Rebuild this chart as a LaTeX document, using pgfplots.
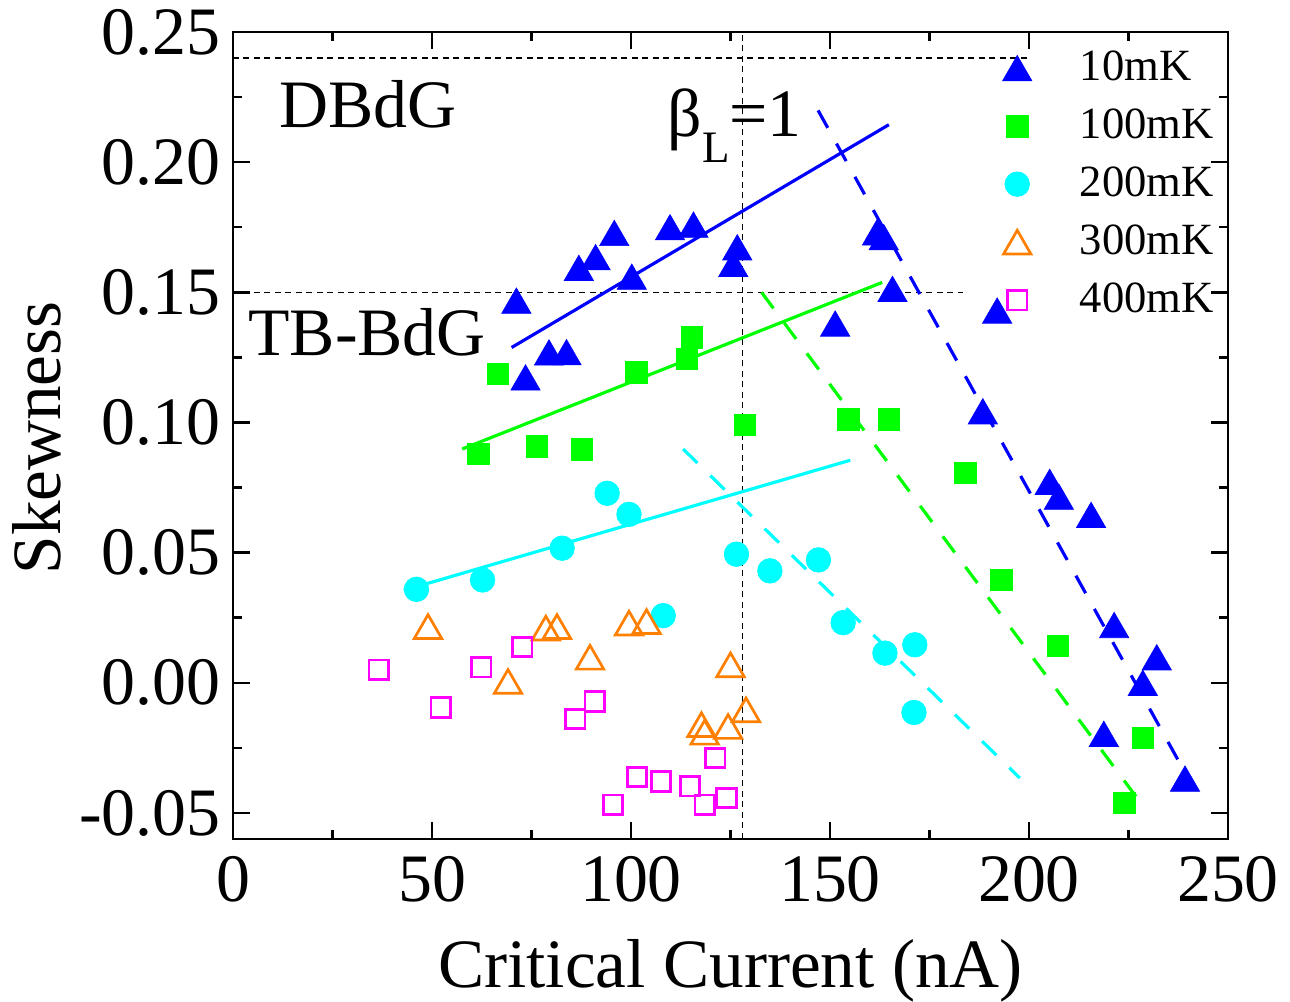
\documentclass[border=0pt]{standalone}
\usepackage{fontspec}
\setmainfont{Liberation Serif}
\usepackage{pgfplots}
\pgfplotsset{compat=1.18}
\definecolor{oBlue}{RGB}{0,0,255}
\definecolor{oGreen}{RGB}{0,255,0}
\definecolor{oCyan}{RGB}{0,255,255}
\definecolor{oOrange}{RGB}{255,128,0}
\definecolor{oMag}{RGB}{255,0,255}
\newcommand{\bigf}{\rmfamily\fontsize{19.3pt}{23pt}\selectfont}
\newcommand{\labf}{\rmfamily\fontsize{19.7pt}{23pt}\selectfont}
\newcommand{\legf}{\rmfamily\fontsize{12.7pt}{15pt}\selectfont}

\begin{document}
\begin{tikzpicture}
\useasboundingbox (-23.3mm,-16.3mm) rectangle (105.7mm,83.9mm);
\begin{axis}[
  scale only axis, width=99.5mm, height=80.7mm,
  xmin=0, xmax=250, ymin=-0.06, ymax=0.25,
  axis line style={line width=0.7pt},
  xtick={0,50,100,150,200,250},
  xticklabels={0,50,100,150,200,250},
  minor x tick num=1,
  ytick={-0.05,0,0.05,0.1,0.15,0.2,0.25},
  yticklabels={-0.05,0.00,0.05,0.10,0.15,0.20,0.25},
  minor y tick num=1,
  tick align=inside,
  major tick length=1.7mm, minor tick length=0.9mm,
  tick style={black, line width=0.7pt},
  ticklabel style={font=\bigf},
  xticklabel style={yshift=-0.5mm},
  xlabel={Critical Current (nA)},
  ylabel={Skewness},
  label style={font=\labf},
  xlabel style={at={(axis description cs:0.5,-0.1846)}, anchor=base},
  ylabel style={at={(axis description cs:-0.1729,0.497)}, anchor=base},
  legend style={at={(axis cs:193.2,0.2458)}, anchor=north west, draw=none, fill=none,
    inner sep=0pt, font=\legf, row sep=0.9mm, column sep=4.1mm},
  legend cell align=left,
]
% reference lines
\addplot[forget plot, black, line width=0.4pt, dash pattern=on 0.6mm off 0.45mm] coordinates {(0,0.24) (200.4,0.24)};
\addplot[forget plot, black, line width=0.4pt, dash pattern=on 0.6mm off 0.45mm] coordinates {(0,0.15) (183.3,0.15)};
\addplot[forget plot, black, line width=0.4pt, dash pattern=on 0.6mm off 0.45mm] coordinates {(128,-0.06) (128,0.25)};
% fit lines
\addplot[forget plot, oBlue, line width=0.9pt] coordinates {(70.0,0.1288) (164.8,0.2144)};
\addplot[forget plot, oGreen, line width=0.9pt] coordinates {(57.6,0.0898) (163.1,0.1538)};
\addplot[forget plot, oCyan, line width=0.9pt] coordinates {(42.9,0.0355) (155.1,0.0855)};
\addplot[forget plot, oBlue, line width=0.9pt, dash pattern=on 2mm off 1.8mm] coordinates {(147.0,0.2199) (240.0,-0.0367)};
\addplot[forget plot, oGreen, line width=0.9pt, dash pattern=on 2mm off 1.8mm] coordinates {(132.8,0.1500) (228.0,-0.0460)};
\addplot[forget plot, oCyan, line width=0.9pt, dash pattern=on 2mm off 1.8mm] coordinates {(113.1,0.0898) (197.7,-0.0366)};
% 10 mK
\addplot[only marks, color=oBlue, mark=triangle*, mark size=4.8pt, mark options={solid, draw=oBlue, fill=oBlue, line width=0.2pt, yshift=-1.2pt}] coordinates {
(71.2,0.1468) (73.5,0.1173) (79.4,0.1269) (83.8,0.1270) (86.9,0.1594) (91.1,0.1635)
(95.8,0.1728) (100.2,0.1560) (109.8,0.1750) (115.7,0.1760) (126.7,0.1673) (125.7,0.1609)
(161.8,0.1730) (163.5,0.1712) (165.7,0.1513) (151.3,0.1380) (192.0,0.1430) (188.4,0.1043)
(205.2,0.0772) (207.5,0.0715) (215.6,0.0645) (221.4,0.0222) (232.1,0.0098) (228.6,0.0000)
(218.8,-0.0196) (239.2,-0.0368)
};
\addlegendentry{10mK}
% 100 mK
\addplot[only marks, color=oGreen, mark=square*, mark size=3.05pt, mark options={solid, draw=oGreen, fill=oGreen, line width=0.2pt}] coordinates {
(66.6,0.1186) (101.3,0.1192) (115.3,0.1327) (114.1,0.1244) (61.6,0.0879) (76.3,0.0909)
(87.6,0.0896) (128.6,0.0990) (154.6,0.1012) (164.8,0.1012) (184.0,0.0807) (193.1,0.0395)
(207.2,0.0142) (228.6,-0.0212) (224.0,-0.0462)
};
\addlegendentry{100mK}
% 200 mK
\addplot[only marks, color=oCyan, mark=*, mark size=3.5pt, mark options={solid, draw=oCyan, fill=oCyan, line width=0.2pt}] coordinates {
(46.1,0.0359) (62.7,0.0395) (82.7,0.0517) (94.0,0.0728) (99.5,0.0647) (108.1,0.0258)
(126.5,0.0494) (134.9,0.0430) (147.1,0.0472) (153.3,0.0231) (163.8,0.0114) (171.3,0.0146)
(171.1,-0.0114)
};
\addlegendentry{200mK}
% 300 mK
\addplot[only marks, color=oOrange, mark=triangle, mark size=4.5pt, mark options={solid, draw=oOrange, line width=0.77pt, yshift=-1.12pt}] coordinates {
(49.0,0.0216) (69.1,0.0005) (78.6,0.0210) (81.4,0.0216) (89.7,0.0098) (99.5,0.0229)
(103.9,0.0235) (125.0,0.0069) (117.7,-0.0161) (118.5,-0.0190) (124.4,-0.0168) (128.9,-0.0104)
};
\addlegendentry{300mK}
% 400 mK
\addplot[only marks, color=oMag, mark=square, mark size=2.76pt, mark options={solid, draw=oMag, line width=0.77pt}] coordinates {
(36.6,0.0050) (52.2,-0.0095) (62.4,0.0060) (72.7,0.0137) (86.0,-0.0139) (90.9,-0.0072)
(95.5,-0.0468) (101.5,-0.0362) (107.5,-0.0379) (114.8,-0.0398) (118.5,-0.0468) (121.2,-0.0289)
(124.0,-0.0443)
};
\addlegendentry{400mK}
% annotations
\node[font=\bigf, anchor=base west, inner sep=0pt] at (axis cs:11.5,0.2135) {DBdG};
\node[font=\bigf, anchor=base west, inner sep=0pt] at (axis cs:3.7,0.1256) {TB-BdG};
\node[font=\bigf, anchor=base west, inner sep=0pt] at (axis cs:109.0,0.2097) {β\raisebox{-2.6mm}{\fontsize{12.8pt}{14pt}\selectfont L}=1};
\end{axis}
\end{tikzpicture}
\end{document}
